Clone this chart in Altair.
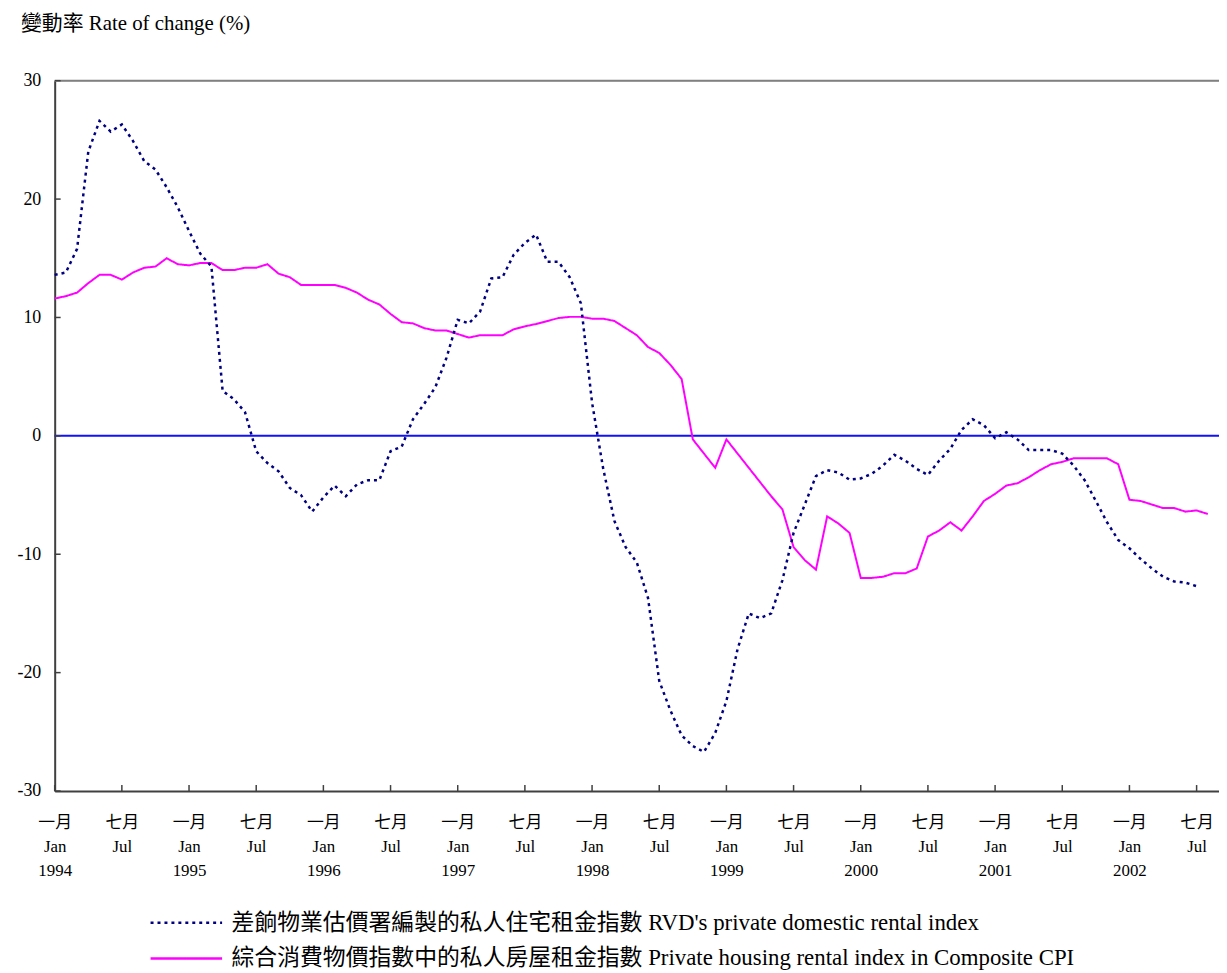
import altair as alt
import pandas as pd

# ---- data (monthly, Jan 1994 = month 0) ----
series_names = [
    "差餉物業估價署編製的私人住宅租金指數  RVD's private domestic rental index",
    "綜合消費物價指數中的私人房屋租金指數  Private housing rental index in Composite CPI",
]
rvd = [
    13.6, 13.8, 15.8, 24.0, 26.6, 25.7, 26.3, 24.9, 23.2, 22.5,
    21.0, 19.3, 17.3, 15.4, 14.3, 3.8, 3.1, 2.0, -1.3, -2.3,
    -3.0, -4.4, -5.0, -6.4, -5.2, -4.2, -5.1, -4.1, -3.75, -3.75,
    -1.3, -0.9, 1.4, 2.7, 4.1, 6.6, 9.8, 9.5, 10.5, 13.3,
    13.4, 15.3, 16.3, 17.0, 14.7, 14.7, 13.4, 11.2, 2.8, -2.8,
    -7.2, -9.4, -10.7, -13.7, -20.7, -23.2, -25.3, -26.2, -26.7, -25.1,
    -22.4, -18.0, -15.0, -15.4, -15.0, -12.2, -8.2, -5.8, -3.4, -2.9,
    -3.1, -3.7, -3.6, -3.2, -2.5, -1.6, -2.1, -2.8, -3.3, -2.1,
    -1.1, 0.5, 1.4, 0.9, -0.2, 0.3, -0.3, -1.2, -1.2, -1.2,
    -1.5, -2.5, -3.75, -5.5, -7.3, -8.8, -9.5, -10.4, -11.2, -11.9,
    -12.3, -12.4, -12.7,
]
cpi = [
    11.6, 11.8, 12.1, 12.9, 13.6, 13.6, 13.2, 13.8, 14.2, 14.3,
    15.0, 14.5, 14.4, 14.6, 14.6, 14.0, 14.0, 14.2, 14.2, 14.5,
    13.7, 13.4, 12.75, 12.75, 12.75, 12.75, 12.5, 12.1, 11.5, 11.1,
    10.3, 9.6, 9.5, 9.1, 8.9, 8.9, 8.6, 8.3, 8.5, 8.5,
    8.5, 9.0, 9.25, 9.45, 9.7, 9.95, 10.05, 10.05, 9.9, 9.9,
    9.7, 9.1, 8.5, 7.5, 7.0, 6.0, 4.8, -0.3, -1.5, -2.7,
    -0.3, -1.5, -2.7, -3.9, -5.1, -6.2, -9.4, -10.5, -11.3, -6.8,
    -7.4, -8.2, -12.0, -12.0, -11.9, -11.6, -11.6, -11.2, -8.5, -8.0,
    -7.3, -8.0, -6.8, -5.5, -4.9, -4.2, -4.0, -3.5, -2.9, -2.4,
    -2.2, -1.9, -1.9, -1.9, -1.9, -2.4, -5.4, -5.5, -5.8, -6.1,
    -6.1, -6.4, -6.3, -6.6,
]
x_ticks = list(range(0, 104, 6))
y_ticks = [-30, -20, -10, 0, 10, 20, 30]
zero_line = [0]
top_border = [30]

df_rvd = pd.DataFrame({"m": list(range(len(rvd))), "v": rvd, "s": series_names[0]})
df_cpi = pd.DataFrame({"m": list(range(len(cpi))), "v": cpi, "s": series_names[1]})

FONT = "'Liberation Serif', 'Noto Sans CJK TC'"
W, H = 1172, 715

xs = alt.Scale(domain=[0, 104], nice=False, zero=False)
ys = alt.Scale(domain=[-30, 30], nice=False, zero=False)

xaxis = alt.Axis(
    values=x_ticks,
    labelExpr="datum.value % 12 == 0 ? ['一月', 'Jan', '' + (1994 + datum.value / 12)] : ['七月', 'Jul']",
    ticks=False, tickSize=0, grid=False, title=None,
    labelFont=FONT, labelFontSize=17, labelLineHeight=24, labelPadding=24,
    labelColor="black", labelAngle=0, labelOverlap=False, labelFlush=False,
    domainColor="#404040", domainWidth=2,
)
yaxis = alt.Axis(
    values=y_ticks, ticks=False, tickSize=0, grid=False, title=None,
    labelExpr="'' + datum.value",
    labelFont="Liberation Serif", labelFontSize=18, labelPadding=14,
    labelColor="black", domainColor="#404040", domainWidth=2,
)


def legend_for(ly):
    return alt.Legend(
        orient="none", legendX=95, legendY=ly, title=None,
        symbolType="stroke", symbolSize=5184, symbolStrokeWidth=2.5,
        labelFont=FONT, labelFontSize=23, labelOffset=8, labelLimit=2000,
        labelColor="black", padding=0,
    )


zero = alt.Chart(pd.DataFrame({"y": zero_line})).mark_rule(
    color="#1010ff", strokeWidth=2
).encode(y=alt.Y("y:Q", scale=ys, axis=yaxis))

border = alt.Chart(pd.DataFrame({"y": top_border})).mark_rule(
    color="#808080", strokeWidth=2
).encode(y=alt.Y("y:Q", scale=ys, axis=yaxis))

xtick_rules = alt.Chart(pd.DataFrame({"t": x_ticks})).mark_rule(
    color="#404040", strokeWidth=1.5
).encode(x=alt.X("t:Q", scale=xs, axis=xaxis), y=alt.value(H), y2=alt.value(H - 6))

ytick_rules = alt.Chart(pd.DataFrame({"t": y_ticks})).mark_rule(
    color="#404040", strokeWidth=1.5
).encode(y=alt.Y("t:Q", scale=ys, axis=yaxis), x=alt.value(0), x2=alt.value(6))

leg1 = legend_for(810)
leg2 = legend_for(846)
cpi_line = alt.Chart(df_cpi).mark_line(strokeWidth=2).encode(
    x=alt.X("m:Q", scale=xs, axis=xaxis),
    y=alt.Y("v:Q", scale=ys, axis=yaxis),
    color=alt.Color("s:N", scale=alt.Scale(domain=[series_names[1]], range=["#ff00ff"]),
                    legend=leg2),
    strokeDash=alt.StrokeDash("s:N", scale=alt.Scale(domain=[series_names[1]], range=[[1, 0]]),
                              legend=leg2),
)
rvd_line = alt.Chart(df_rvd).mark_line(strokeWidth=2.5).encode(
    x=alt.X("m:Q", scale=xs, axis=xaxis),
    y=alt.Y("v:Q", scale=ys, axis=yaxis),
    color=alt.Color("s:N", scale=alt.Scale(domain=[series_names[0]], range=["#000080"]),
                    legend=leg1),
    strokeDash=alt.StrokeDash("s:N", scale=alt.Scale(domain=[series_names[0]], range=[[3, 4]]),
                              legend=leg1),
)

chart = alt.layer(zero, border, xtick_rules, ytick_rules, cpi_line, rvd_line).resolve_scale(
    color="independent", strokeDash="independent"
).properties(
    width=W, height=H,
    padding={"left": 47, "top": 70, "right": 0, "bottom": 178},
    autosize=alt.AutoSizeParams(type="none"),
    title=alt.TitleParams(
        text="變動率 Rate of change (%)", anchor="start", font=FONT, fontSize=21,
        fontWeight="normal", color="black", dx=4, offset=38,
    ),
).configure_view(stroke=None).configure(background="white")

chart.save("out.html", embed_options={"renderer": "svg", "actions": False})
